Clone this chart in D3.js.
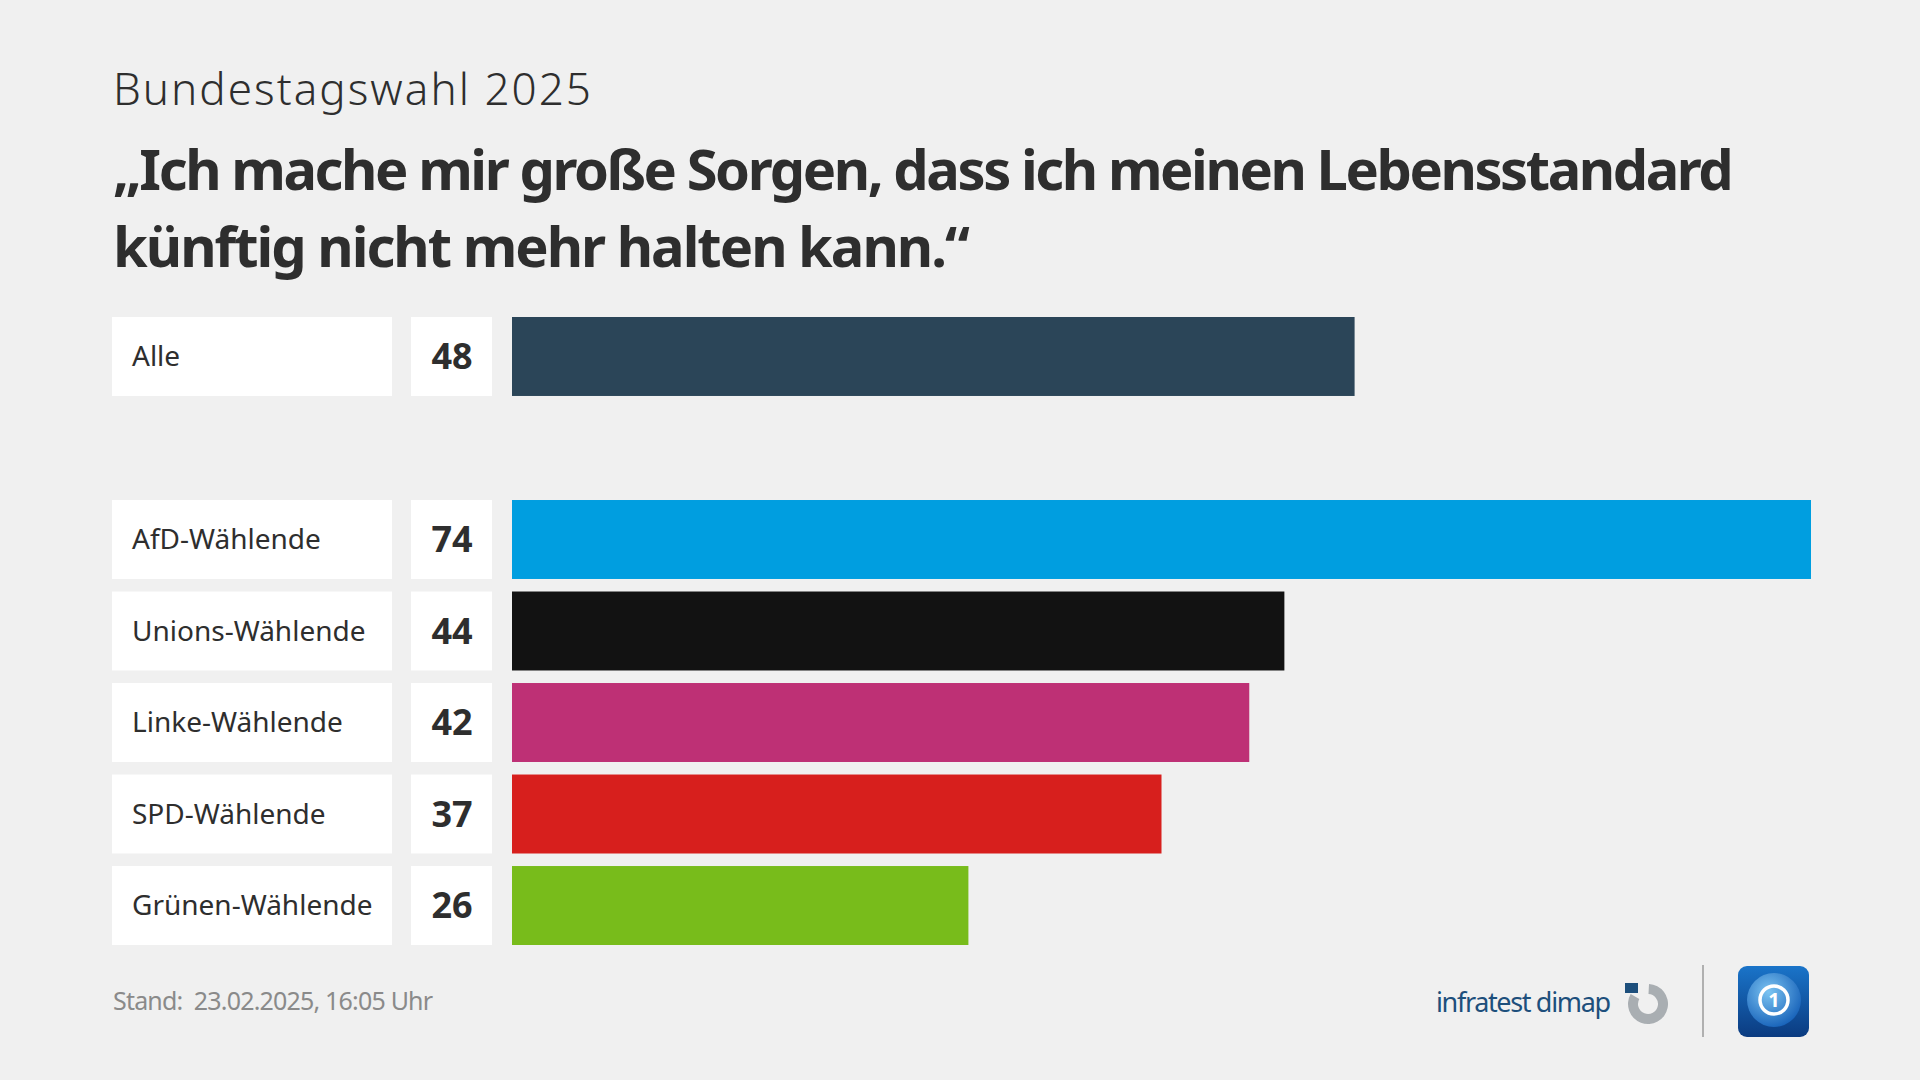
<!DOCTYPE html>
<html>
<head>
<meta charset="utf-8">
<script src="https://cdn.jsdelivr.net/npm/d3@7"></script>
<style>
  html, body { margin: 0; padding: 0; background: #f0f0f0; }
  svg { display: block; }
</style>
</head>
<body>
<svg id="chart" width="1920" height="1080"></svg>
<script>
// ---- data ----
const categories = ["Alle", "AfD-Wählende", "Unions-Wählende", "Linke-Wählende", "SPD-Wählende", "Grünen-Wählende"];
const values = [48, 74, 44, 42, 37, 26];
const colors = ["#2b4558", "#009ee0", "#121212", "#be3075", "#d71f1d", "#78bc1b"];
const rowKeys = ["Alle", "_gap", "AfD-Wählende", "Unions-Wählende", "Linke-Wählende", "SPD-Wählende", "Grünen-Wählende"];
const subtitle = "Bundestagswahl 2025";
const titleLines = ["„Ich mache mir große Sorgen, dass ich meinen Lebensstandard", "künftig nicht mehr halten kann.“"];
const footer = "Stand:  23.02.2025, 16:05 Uhr";
const brand = "infratest dimap";

const data = categories.map((c, i) => ({ cat: c, value: values[i], color: colors[i] }));

const svg = d3.select("#chart");
const FONT = "'Noto Sans', 'Open Sans', sans-serif";
const TEXT = "#2e2e2e";

// adjust letter spacing so the text spans the wanted width
function fit(sel, w) {
  const n = sel.node();
  const L = n.getComputedTextLength();
  const chars = n.textContent.length;
  if (Math.abs(L - w) > 1 && chars > 1) sel.attr("letter-spacing", ((w - L) / (chars - 1)).toFixed(2));
}

svg.append("rect").attr("width", 1920).attr("height", 1080).attr("fill", "#f0f0f0");

// ---- titles ----
const st = svg.append("text").attr("x", 113).attr("y", 105)
  .attr("font-family", FONT).attr("font-weight", 300).attr("font-size", 44)
  .attr("fill", TEXT).text(subtitle);
fit(st, 478);

const tWidths = [1621, 857];
const tY = [190, 267];
titleLines.forEach((t, i) => {
  const s = svg.append("text").attr("x", 113).attr("y", tY[i])
    .attr("font-family", FONT).attr("font-weight", 700).attr("font-size", 56)
    .attr("fill", TEXT).text(t);
  fit(s, tWidths[i]);
});

// ---- scales ----
const x = d3.scaleLinear().domain([0, 74]).range([512, 1811]);
const y = d3.scaleBand().domain(rowKeys).range([317, 945]).paddingInner(0.137).paddingOuter(0);
const bw = y.bandwidth();

const rows = svg.append("g").selectAll("g").data(data).join("g")
  .attr("transform", d => `translate(0,${y(d.cat)})`);

rows.append("rect").attr("x", 112).attr("y", 0).attr("width", 280).attr("height", bw).attr("fill", "#ffffff");
rows.append("rect").attr("x", 411).attr("y", 0).attr("width", 81).attr("height", bw).attr("fill", "#ffffff");

rows.append("text").attr("x", 132).attr("y", bw / 2).attr("dy", "0.35em")
  .attr("font-family", FONT).attr("font-size", 28).attr("fill", TEXT)
  .text(d => d.cat);

rows.append("text").attr("x", 452).attr("y", bw / 2).attr("dy", "0.36em")
  .attr("text-anchor", "middle")
  .attr("font-family", FONT).attr("font-weight", 700).attr("font-size", 36).attr("fill", TEXT)
  .text(d => d.value);

rows.append("rect").attr("x", x(0)).attr("y", 0)
  .attr("width", d => x(d.value) - x(0)).attr("height", bw)
  .attr("fill", d => d.color);

// ---- footer ----
const ft = svg.append("text").attr("x", 113).attr("y", 1010)
  .attr("font-family", FONT).attr("font-size", 25).attr("fill", "#8a8a8a")
  .attr("xml:space", "preserve").style("white-space", "pre").text(footer);
fit(ft, 320);

// ---- logos ----
const br = svg.append("text").attr("x", 1436).attr("y", 1012)
  .attr("font-family", FONT).attr("font-size", 27).attr("fill", "#1d4f7c").text(brand);
fit(br, 175);

const ic = svg.append("g").attr("transform", "translate(1648,1004)");
ic.append("path")
  .attr("d", d3.arc().innerRadius(10).outerRadius(20).startAngle(0.05).endAngle(2 * Math.PI - 1.05)())
  .attr("fill", "#a9aeb2");
ic.append("rect").attr("x", -23).attr("y", -21).attr("width", 13).attr("height", 10).attr("fill", "#1d4f7c");

svg.append("line").attr("x1", 1703).attr("x2", 1703).attr("y1", 965).attr("y2", 1037)
  .attr("stroke", "#b0b0b0").attr("stroke-width", 2);

const defs = svg.append("defs");
const g1 = defs.append("linearGradient").attr("id", "ardg").attr("x1", 0).attr("y1", 0).attr("x2", 0).attr("y2", 1);
g1.append("stop").attr("offset", "0%").attr("stop-color", "#1a74c9");
g1.append("stop").attr("offset", "100%").attr("stop-color", "#0b3b80");
const g2 = defs.append("radialGradient").attr("id", "globe").attr("cx", "40%").attr("cy", "35%").attr("r", "70%");
g2.append("stop").attr("offset", "0%").attr("stop-color", "#7cc4f2");
g2.append("stop").attr("offset", "100%").attr("stop-color", "#1560b8");

const ard = svg.append("g").attr("transform", "translate(1738,966)");
ard.append("rect").attr("width", 71).attr("height", 71).attr("rx", 9).attr("fill", "url(#ardg)");
ard.append("circle").attr("cx", 36).attr("cy", 34).attr("r", 27).attr("fill", "url(#globe)");
ard.append("circle").attr("cx", 36).attr("cy", 34).attr("r", 14).attr("fill", "none").attr("stroke", "#ffffff").attr("stroke-width", 3.5);
ard.append("text").attr("x", 36).attr("y", 34).attr("dy", "0.36em").attr("text-anchor", "middle")
  .attr("font-family", FONT).attr("font-weight", 700).attr("font-size", 20).attr("fill", "#ffffff").text("1");
</script>
</body>
</html>
